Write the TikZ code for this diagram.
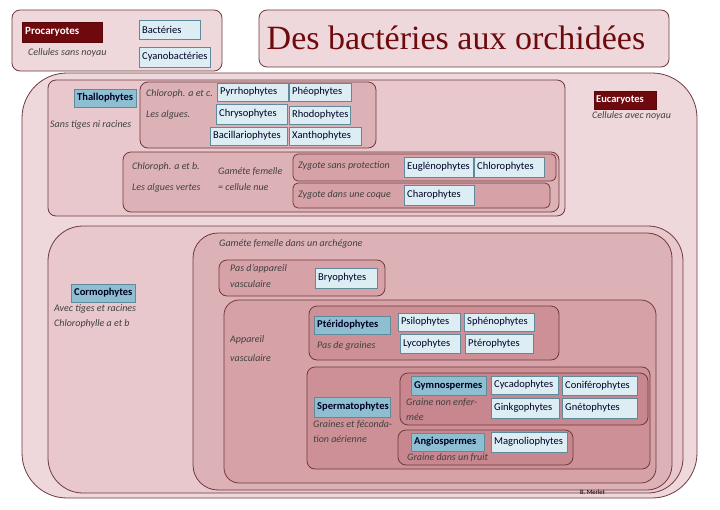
\documentclass[tikz,border=0pt]{standalone}
\usepackage{fontspec}
\setmainfont{Carlito}
\newfontfamily\titlefont{Liberation Serif}
\definecolor{c1}{HTML}{EFD8DB}
\definecolor{c2}{HTML}{E8C8CC}
\definecolor{c3}{HTML}{DDB2B7}
\definecolor{c4}{HTML}{D6A2A8}
\definecolor{c5}{HTML}{CD9097}
\definecolor{c6}{HTML}{C8868E}
\definecolor{bd}{HTML}{6E3A3E}
\definecolor{lb}{HTML}{DCEEF4}
\definecolor{lbs}{HTML}{8EBFD0}
\definecolor{lbd}{HTML}{5E8A9C}
\definecolor{dr}{HTML}{6E0A0E}
\begin{document}
\begin{tikzpicture}[x=1pt,y=-1pt,
  cont/.style={draw=bd, line width=0.8pt, rounded corners=8pt},
  lab/.style={draw=lbd, line width=0.7pt, fill=lb},
  labs/.style={draw=lbd, line width=0.7pt, fill=lbs},
  txt/.style={font=\fontsize{10.5}{12}\selectfont, text=black!85!blue, inner sep=0pt, anchor=west},
  it/.style={font=\fontsize{10}{12}\selectfont\itshape, text=black!75, inner sep=0pt, anchor=west}]
\newcommand\lb[7]{\draw[#7] (#2,#3) rectangle (#4,#5);
  \node[txt] (#1) at (#2+3,{(#3+#5)/2}) {#6};}
\newcommand\lbb[6]{\draw[labs] (#2,#3) rectangle (#4,#5);
  \node[txt,font=\fontsize{10.5}{12}\selectfont\bfseries] (#1) at (#2+3,{(#3+#5)/2}) {#6};}
\useasboundingbox (0,0) rectangle (720,509);
\fill[white] (0,0) rectangle (720,509);
% containers
\draw[cont, fill=c1] (12,10) rectangle (222,71);
\draw[cont, fill=c1] (259,10) rectangle (669,67);
\node[font=\titlefont\fontsize{34}{36}\selectfont, text=dr] (title) at (456,38) {Des bactéries aux orchidées};
\draw[cont, fill=c1, rounded corners=45pt] (22,73) rectangle (697,498);
\draw[cont, fill=c2] (48,80) rectangle (565,216);
\draw[cont, fill=c3] (140,82) rectangle (376,148);
\draw[cont, fill=c3] (123,152) rectangle (559,212);
\draw[cont, fill=c4, rounded corners=5pt] (293,154) rectangle (556,181);
\draw[cont, fill=c4, rounded corners=5pt] (293,183) rectangle (550,208);
\draw[cont, fill=c2, rounded corners=35pt] (48,226) rectangle (683,493);
\draw[cont, fill=c3, rounded corners=25pt] (193,233) rectangle (672,490);
\draw[cont, fill=c4] (219,260) rectangle (385,296);
\draw[cont, fill=c4, rounded corners=15pt] (224,300) rectangle (656,483);
\draw[cont, fill=c5] (309,306) rectangle (559,360);
\draw[cont, fill=c5] (307,367) rectangle (650,469);
\draw[cont, fill=c6] (400,373) rectangle (648,425);
\draw[cont, fill=c6] (398,430) rectangle (573,465);
% dark labels
\draw[fill=dr, draw=dr!80!black] (22,22) rectangle (102,42);
\node[txt, text=white, font=\fontsize{11}{12}\selectfont\bfseries] (pro) at (25,32) {Procaryotes};
\draw[fill=dr, draw=dr!80!black] (594,91) rectangle (656,109);
\node[txt, text=white, font=\fontsize{10.5}{12}\selectfont\bfseries] (euc) at (596,100) {Eucaryotes};
% labels
\lb{bac}{139}{20}{200}{39}{Bactéries}{lab}
\lb{cya}{139}{47}{210}{67}{Cyanobactéries}{lab}
\lbb{thal}{74}{89}{136}{107}{Thallophytes}
\lb{pyr}{217}{83}{288}{101}{Pyrrhophytes}{lab}
\lb{phe}{289}{83}{351}{101}{Phéophytes}{lab}
\lb{chr}{216}{104}{287}{124}{Chrysophytes}{lab}
\lb{rho}{289}{106}{350}{124}{Rhodophytes}{lab}
\lb{bacil}{210}{127}{287}{145}{Bacillariophytes}{lab}
\lb{xan}{289}{127}{361}{145}{Xanthophytes}{lab}
\lb{eug}{404}{157}{473}{177}{Euglénophytes}{lab}
\lb{chl}{474}{157}{544}{177}{Chlorophytes}{lab}
\lb{cha}{404}{185}{474}{205}{Charophytes}{lab}
\lbb{corm}{71}{284}{135}{302}{Cormophytes}
\lb{bry}{315}{268}{377}{288}{Bryophytes}{lab}
\lbb{pter}{314}{316}{390}{334}{Ptéridophytes}
\lb{psi}{398}{313}{460}{331}{Psilophytes}{lab}
\lb{sph}{464}{313}{534}{331}{Sphénophytes}{lab}
\lb{lyc}{400}{334}{460}{353}{Lycophytes}{lab}
\lb{pte}{465}{334}{533}{353}{Ptérophytes}{lab}
\lbb{sperm}{314}{397}{390}{417}{Spermatophytes}
\lbb{gym}{411}{376}{486}{395}{Gymnospermes}
\lb{cyc}{491}{376}{558}{394}{Cycadophytes}{lab}
\lb{con}{562}{376}{637}{395}{Coniférophytes}{lab}
\lb{gin}{491}{398}{559}{418}{Ginkgophytes}{lab}
\lb{gne}{562}{398}{637}{418}{Gnétophytes}{lab}
\lbb{ang}{411}{433}{484}{451}{Angiospermes}
\lb{mag}{491}{432}{567}{452}{Magnoliophytes}{lab}
% italic texts
\node[it] (t1) at (28,53) {Cellules sans noyau};
\node[it] (t2) at (592,116) {Cellules avec noyau};
\node[it] (t3) at (50,125) {Sans tiges ni racines};
\node[it] (t4) at (146,94) {Chloroph. a et c.};
\node[it] (t5) at (146,115) {Les algues.};
\node[it] (t6) at (132,167) {Chloroph. a et b.};
\node[it] (t7) at (132,188) {Les algues vertes};
\node[it] (t8) at (218,172) {Gaméte femelle};
\node[it] (t9) at (218,187) {= cellule nue};
\node[it] (t10) at (298,166) {Zygote sans protection};
\node[it] (t11) at (298,195) {Zygote dans une coque};
\node[it] (t12) at (219,244) {Gaméte femelle dans un archégone};
\node[it] (t13) at (230,269) {Pas d'appareil};
\node[it] (t14) at (230,284) {vasculaire};
\node[it] (t15) at (54,309) {Avec tiges et racines};
\node[it] (t16) at (54,324) {Chlorophylle a et b};
\node[it] (t17) at (230,340) {Appareil};
\node[it] (t18) at (230,358) {vasculaire};
\node[it] (t19) at (317,346) {Pas de graines};
\node[it] (t20) at (406,403) {Graine non enfer-};
\node[it] (t21) at (406,417) {mée};
\node[it] (t22) at (313,425) {Graines et féconda-};
\node[it] (t23) at (313,439) {tion aérienne};
\node[it] (t24) at (407,458) {Graine dans un fruit};
\node[txt, font=\fontsize{6.5}{7}\selectfont, text=black] (bm) at (580,492) {B. Merlet};
\end{tikzpicture}
\end{document}
